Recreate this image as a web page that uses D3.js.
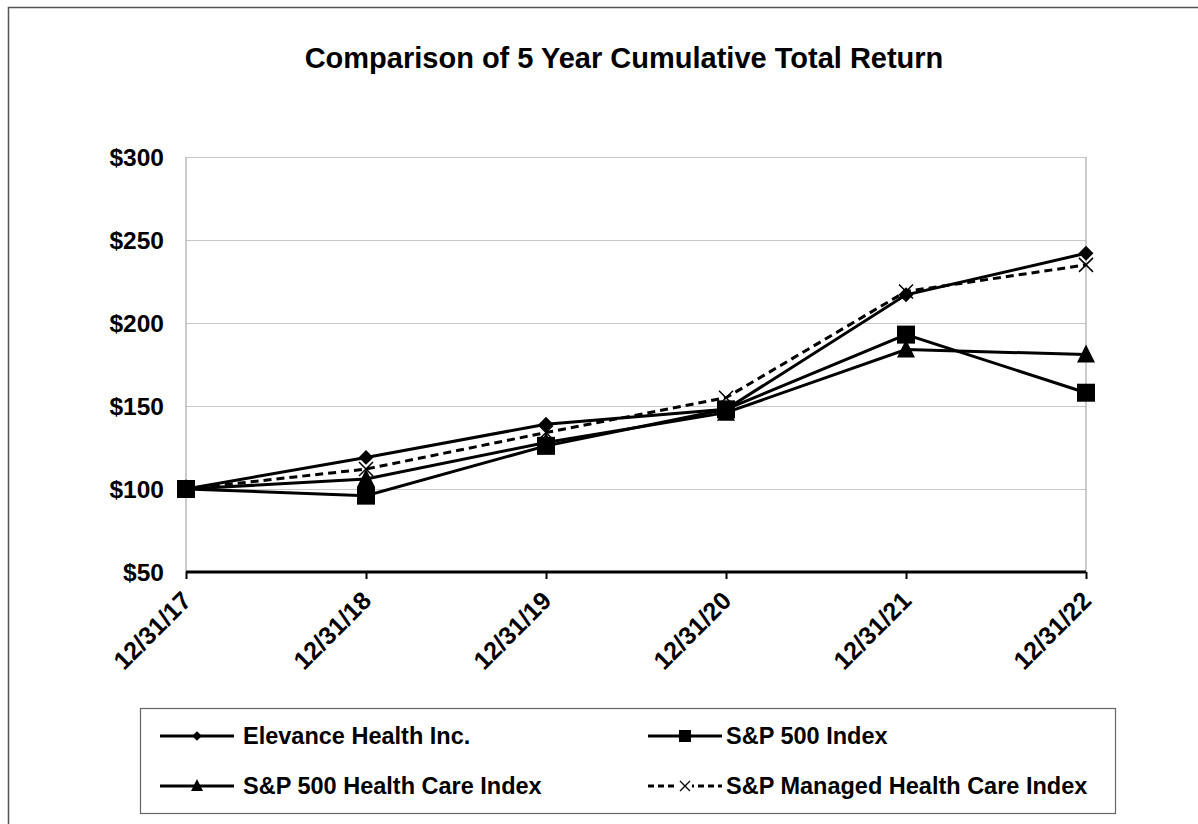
<!DOCTYPE html>
<html lang="en">
<head>
    <meta charset="UTF-8">
    <title>Comparison of 5 Year Cumulative Total Return</title>
    <script type="text/javascript" src="https://cdn.jsdelivr.net/npm/d3@7"></script>
    <style type="text/css">
        body { margin: 0; background: #fff; }
        text { font-family: "Liberation Sans", Arial, sans-serif; font-weight: bold; fill: #000; }
    </style>
</head>
<body>
<script type="text/javascript">

    //Width and height
    var w = 1198;
    var h = 824;

    var dates = ["12/31/17", "12/31/18", "12/31/19", "12/31/20", "12/31/21", "12/31/22"];
    var yTicks = [50, 100, 150, 200, 250, 300];

    var elevance = [100, 119, 139, 148, 217, 242];
    var sp500 = [100, 96, 126, 148, 193, 158];
    var spHealth = [100, 106, 128, 146, 184, 181];
    var spManaged = [100, 112, 134, 155, 219, 235];

    var seriesNames = ["Elevance Health Inc.", "S&P 500 Index",
        "S&P 500 Health Care Index", "S&P Managed Health Care Index"];

    var series = [
        { name: seriesNames[0], values: elevance, marker: "diamond", dash: null },
        { name: seriesNames[1], values: sp500, marker: "square", dash: null },
        { name: seriesNames[2], values: spHealth, marker: "triangle", dash: null },
        { name: seriesNames[3], values: spManaged, marker: "cross", dash: "8,5" }
    ];

    var svg = d3.select("body")
        .append("svg")
        .attr("width", w)
        .attr("height", h);

    //outer frame (only top and left edges are in view)
    svg.append("path")
        .attr("d", "M8.5," + h + "V7.5H" + w)
        .attr("fill", "none")
        .attr("stroke", "#555")
        .attr("stroke-width", 1.5);

    svg.append("text")
        .attr("x", 624)
        .attr("y", 68)
        .attr("text-anchor", "middle")
        .attr("font-size", "29px")
        .text("Comparison of 5 Year Cumulative Total Return");

    //plot area bounds
    var pLeft = 186, pRight = 1086, pTop = 157, pBottom = 572;

    var x = d3.scalePoint().domain(dates).range([pLeft, pRight]);
    var y = d3.scaleLinear().domain([50, 300]).range([pBottom, pTop]);

    //gridlines
    svg.append("g")
        .selectAll("line")
        .data(yTicks.slice(1))
        .enter()
        .append("line")
        .attr("x1", pLeft)
        .attr("x2", pRight)
        .attr("y1", function(d) { return Math.round(y(d)) + 0.5; })
        .attr("y2", function(d) { return Math.round(y(d)) + 0.5; })
        .attr("stroke", "#c8c8c8")
        .attr("stroke-width", 1);

    //left and right plot edges
    svg.append("line")
        .attr("x1", pLeft).attr("x2", pLeft)
        .attr("y1", pTop).attr("y2", pBottom)
        .attr("stroke", "#999");
    svg.append("line")
        .attr("x1", pRight).attr("x2", pRight)
        .attr("y1", pTop).attr("y2", pBottom)
        .attr("stroke", "#999");

    //y axis labels
    var yAxis = svg.append("g")
        .attr("transform", "translate(" + pLeft + ",0)")
        .call(d3.axisLeft(y).tickValues(yTicks).tickSize(0).tickPadding(22)
            .tickFormat(function(d) { return "$" + d; }));
    yAxis.select(".domain").remove();
    yAxis.selectAll("text")
        .attr("font-size", "24.5px")
        .attr("font-family", null)
        .attr("dy", "0.36em");

    //x axis
    var xAxis = svg.append("g")
        .attr("transform", "translate(0," + pBottom + ")")
        .call(d3.axisBottom(x).tickSize(7).tickPadding(6));
    xAxis.select(".domain")
        .attr("stroke", "#000")
        .attr("stroke-width", 3)
        .attr("d", "M" + pLeft + ",0H" + pRight);
    xAxis.selectAll(".tick line")
        .attr("stroke", "#000")
        .attr("stroke-width", 2);
    xAxis.selectAll("text")
        .attr("font-size", "25px")
        .attr("font-family", null)
        .attr("text-anchor", "end")
        .attr("transform", "translate(-10,14) rotate(-45)")
        .attr("dy", "0.4em");

    function drawMarker(g, type, cx, cy) {
        if (type === "diamond") {
            g.append("path")
                .attr("d", d3.symbol().type(d3.symbolDiamond2).size(140)())
                .attr("transform", "translate(" + cx + "," + cy + ")")
                .attr("fill", "#000");
        } else if (type === "square") {
            g.append("rect")
                .attr("x", cx - 9).attr("y", cy - 9)
                .attr("width", 18).attr("height", 18)
                .attr("fill", "#000");
        } else if (type === "triangle") {
            g.append("path")
                .attr("d", "M" + cx + "," + (cy - 10) + "L" + (cx + 9) + "," + (cy + 8) +
                    "L" + (cx - 9) + "," + (cy + 8) + "Z")
                .attr("fill", "#000");
        } else {
            g.append("path")
                .attr("d", "M" + (cx - 7) + "," + (cy - 7) + "L" + (cx + 7) + "," + (cy + 7) +
                    "M" + (cx - 7) + "," + (cy + 7) + "L" + (cx + 7) + "," + (cy - 7))
                .attr("stroke", "#000")
                .attr("stroke-width", 1.5);
        }
    }

    var line = d3.line()
        .x(function(d, i) { return x(dates[i]); })
        .y(function(d) { return y(d); });

    series.forEach(function(s) {
        svg.append("path")
            .datum(s.values)
            .attr("d", line)
            .attr("fill", "none")
            .attr("stroke", "#000")
            .attr("stroke-width", 3)
            .attr("stroke-dasharray", s.dash);
    });
    series.forEach(function(s) {
        var g = svg.append("g");
        s.values.forEach(function(v, i) {
            drawMarker(g, s.marker, x(dates[i]), y(v));
        });
    });

    //legend
    svg.append("rect")
        .attr("x", 140.5).attr("y", 708.5)
        .attr("width", 975).attr("height", 105)
        .attr("fill", "none")
        .attr("stroke", "#666")
        .attr("stroke-width", 1.2);

    var legendPos = [
        { x: 160, y: 736, tx: 243 }, { x: 648, y: 736, tx: 726 },
        { x: 160, y: 786, tx: 243 }, { x: 648, y: 786, tx: 726 }
    ];

    series.forEach(function(s, i) {
        var p = legendPos[i];
        var g = svg.append("g");
        g.append("line")
            .attr("x1", p.x).attr("x2", p.x + 74)
            .attr("y1", p.y).attr("y2", p.y)
            .attr("stroke", "#000")
            .attr("stroke-width", 3)
            .attr("stroke-dasharray", s.dash ? "6,4" : null);
        var mx = p.x + 37;
        if (s.marker === "diamond") {
            g.append("path")
                .attr("d", d3.symbol().type(d3.symbolDiamond2).size(60)())
                .attr("transform", "translate(" + mx + "," + p.y + ")");
        } else if (s.marker === "square") {
            g.append("rect")
                .attr("x", mx - 6).attr("y", p.y - 6)
                .attr("width", 12).attr("height", 12);
        } else if (s.marker === "triangle") {
            g.append("path")
                .attr("d", "M" + mx + "," + (p.y - 7) + "L" + (mx + 6) + "," + (p.y + 5) +
                    "L" + (mx - 6) + "," + (p.y + 5) + "Z");
        } else {
            g.append("rect")
                .attr("x", mx - 7).attr("y", p.y - 4)
                .attr("width", 14).attr("height", 8)
                .attr("fill", "#fff");
            g.append("path")
                .attr("d", "M" + (mx - 5) + "," + (p.y - 5) + "L" + (mx + 5) + "," + (p.y + 5) +
                    "M" + (mx - 5) + "," + (p.y + 5) + "L" + (mx + 5) + "," + (p.y - 5))
                .attr("stroke", "#000")
                .attr("stroke-width", 1.3);
        }
        g.append("text")
            .attr("x", p.tx)
            .attr("y", p.y)
            .attr("dy", "0.36em")
            .attr("font-size", "23.5px")
            .text(s.name);
    });
</script>
</body>
</html>
